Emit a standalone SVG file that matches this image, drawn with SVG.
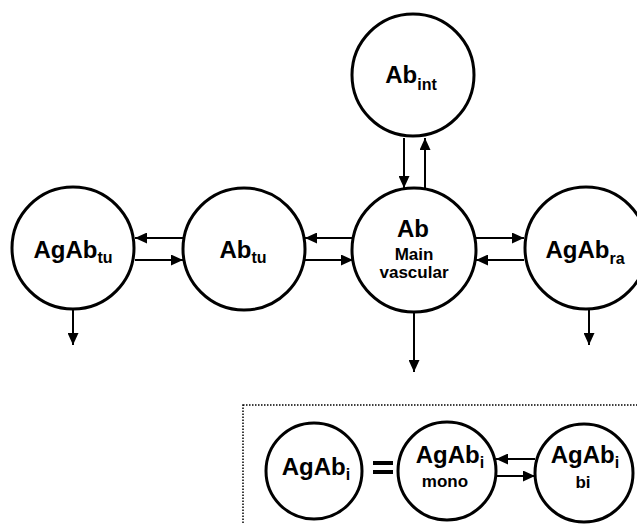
<svg xmlns="http://www.w3.org/2000/svg" width="637" height="524" viewBox="0 0 637 524">
<defs>
<style>
.node{fill:#fff;stroke:#000;stroke-width:3}
.lbl{font-family:"Liberation Sans",Arial,sans-serif;font-weight:bold;font-size:24px;fill:#000;text-anchor:middle}
.sub{font-size:16px}
.small{font-size:17px}
.conn line{stroke:#000;stroke-width:2;marker-end:url(#ah)}
</style>
<marker id="ah" markerUnits="userSpaceOnUse" markerWidth="13" markerHeight="11" refX="12" refY="5.5" orient="auto">
<path d="M0,0 L12,5.5 L0,11 Z" fill="#000"/>
</marker>
</defs>
<rect width="637" height="524" fill="#fff"/>
<rect id="legend-box" x="243" y="405" width="420" height="140" fill="none" stroke="#000" stroke-width="1.5" stroke-dasharray="1.5 1.5"/>
<g class="conn" id="connectors">
<line x1="183" y1="238" x2="135" y2="238"/>
<line x1="135" y1="260" x2="183" y2="260"/>
<line x1="353" y1="238" x2="305" y2="238"/>
<line x1="305" y1="260" x2="353" y2="260"/>
<line x1="476" y1="238" x2="524" y2="238"/>
<line x1="524" y1="260" x2="476" y2="260"/>
<line x1="404" y1="138" x2="404" y2="188"/>
<line x1="425" y1="188" x2="425" y2="138"/>
<line x1="73" y1="310" x2="73" y2="345"/>
<line x1="414" y1="312" x2="414" y2="372"/>
<line x1="589" y1="310" x2="589" y2="345"/>
<line x1="535" y1="459" x2="496" y2="459"/>
<line x1="496" y1="476" x2="535" y2="476"/>
</g>
<g id="AgAb_tu"><circle class="node" cx="73" cy="248" r="61"/><text class="lbl" x="73" y="258">AgAb<tspan class="sub" dy="5">tu</tspan></text></g>
<g id="Ab_tu"><circle class="node" cx="244" cy="249" r="61"/><text class="lbl" x="243" y="258">Ab<tspan class="sub" dy="5">tu</tspan></text></g>
<g id="Ab_main"><circle class="node" cx="414" cy="250" r="62"/><text class="lbl" x="413" y="237">Ab</text><text class="lbl small" x="414" y="260">Main</text><text class="lbl small" x="414" y="278">vascular</text></g>
<g id="Ab_int"><circle class="node" cx="413" cy="75" r="61"/><text class="lbl" x="411" y="83">Ab<tspan class="sub" dy="7">int</tspan></text></g>
<g id="AgAb_ra"><circle class="node" cx="586" cy="248" r="61"/><text class="lbl" x="585" y="258">AgAb<tspan class="sub" dy="6">ra</tspan></text></g>
<g id="AgAb_i"><circle class="node" cx="314" cy="471" r="48"/><text class="lbl" x="316" y="475" font-size="25">AgAb<tspan class="sub" dy="5">i</tspan></text></g>
<g id="equals"><rect x="373" y="461" width="20" height="4" fill="#000"/><rect x="373" y="470" width="20" height="4" fill="#000"/></g>
<g id="AgAb_i_mono"><circle class="node" cx="447" cy="471" r="49"/><text class="lbl" x="450" y="463" font-size="25">AgAb<tspan class="sub" dy="5">i</tspan></text><text class="lbl small" x="445" y="487" font-size="18">mono</text></g>
<g id="AgAb_i_bi"><circle class="node" cx="584" cy="473" r="49"/><text class="lbl" x="585" y="463" font-size="25">AgAb<tspan class="sub" dy="5">i</tspan></text><text class="lbl small" x="583" y="488" font-size="18">bi</text></g>
</svg>
